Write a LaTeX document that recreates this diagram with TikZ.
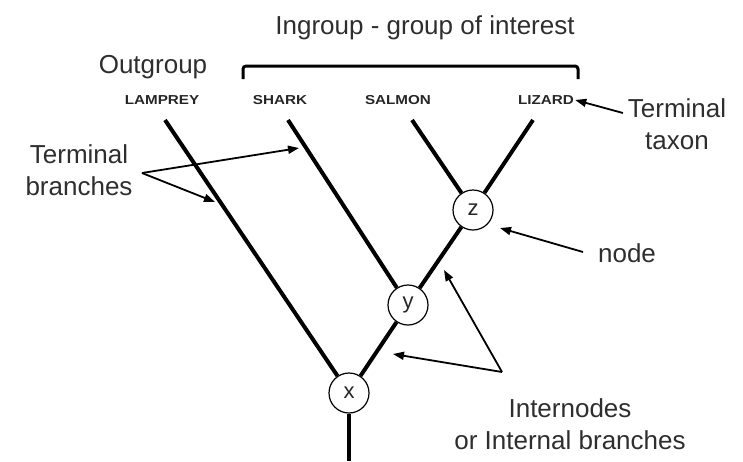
\documentclass[tikz,border=0pt]{standalone}
\usepackage{fontspec}
\setmainfont{Liberation Sans}
\usetikzlibrary{arrows.meta}
\begin{document}
\begin{tikzpicture}[x=1pt,y=-1pt,
  branch/.style={line width=4pt},
  nd/.style={circle,draw,line width=1.2pt,fill=white,minimum size=40pt,inner sep=0pt,text=black!85,font=\fontsize{22}{22}\selectfont},
  taxon/.style={font=\fontsize{13}{13}\selectfont\bfseries,xscale=1.17,inner sep=1pt,text=black!85},
  lbl/.style={font=\fontsize{26}{32}\selectfont,align=center,inner sep=0pt,text=black!82},
  ptr/.style={line width=1.8pt,-{Triangle[length=11pt,width=8pt]}},
  brk/.style={line width=3pt,rounded corners=3pt}]
\useasboundingbox (0,0) rectangle (743,461);
% headings
\node[lbl] (ingroup) at (425,28) {Ingroup - group of interest};
\node[lbl] (outgroup) at (153,67) {Outgroup};
\coordinate (bl) at (243,79);
\coordinate (br) at (578,79);
\draw[brk] (bl) -- (243,66) -- (578,66) -- (br);
% taxa
\node[taxon] (lamprey) at (162,100) {LAMPREY};
\node[taxon] (shark) at (280,100) {SHARK};
\node[taxon] (salmon) at (398,100) {SALMON};
\node[taxon] (lizard) at (546,100) {LIZARD};
% tree nodes
\node[nd] (X) at (349,393) {x};
\node[nd] (Y) at (408,305) {y};
\node[nd] (Z) at (473,210) {z};
\coordinate (tl) at (165,120);
\coordinate (ts) at (288,120);
\coordinate (tsa) at (412,120);
\coordinate (tz) at (533,120);
\coordinate (root) at (349,461);
\draw[branch] (tl) -- (X);
\draw[branch] (ts) -- (Y);
\draw[branch] (tsa) -- (Z);
\draw[branch] (tz) -- (Z);
\draw[branch] (Z) -- (Y);
\draw[branch] (Y) -- (X);
\draw[branch] (X) -- (root);
% annotations
\node[lbl] (termtax) at (677,124) {Terminal\\taxon};
\coordinate (tt) at (623,113);
\draw[ptr] (tt) -- (lizard.east);
\node[lbl] (termbr) at (79,170) {Terminal\\branches};
\coordinate (tbt) at (142,173);
\coordinate (tb1) at (299,148);
\coordinate (tb2) at (215,202);
\draw[ptr] (tbt) -- (tb1);
\draw[ptr] (tbt) -- (tb2);
\node[lbl] (nodelbl) at (627,253) {node};
\coordinate (nt) at (583,252);
\coordinate (nz) at (500,228);
\draw[ptr] (nt) -- (nz);
\node[lbl] (internodes) at (570,424) {Internodes\\or Internal branches};
\coordinate (it) at (502,372);
\coordinate (i1) at (444,270);
\coordinate (i2) at (393,354);
\draw[ptr] (it) -- (i1);
\draw[ptr] (it) -- (i2);
\end{tikzpicture}
\end{document}
